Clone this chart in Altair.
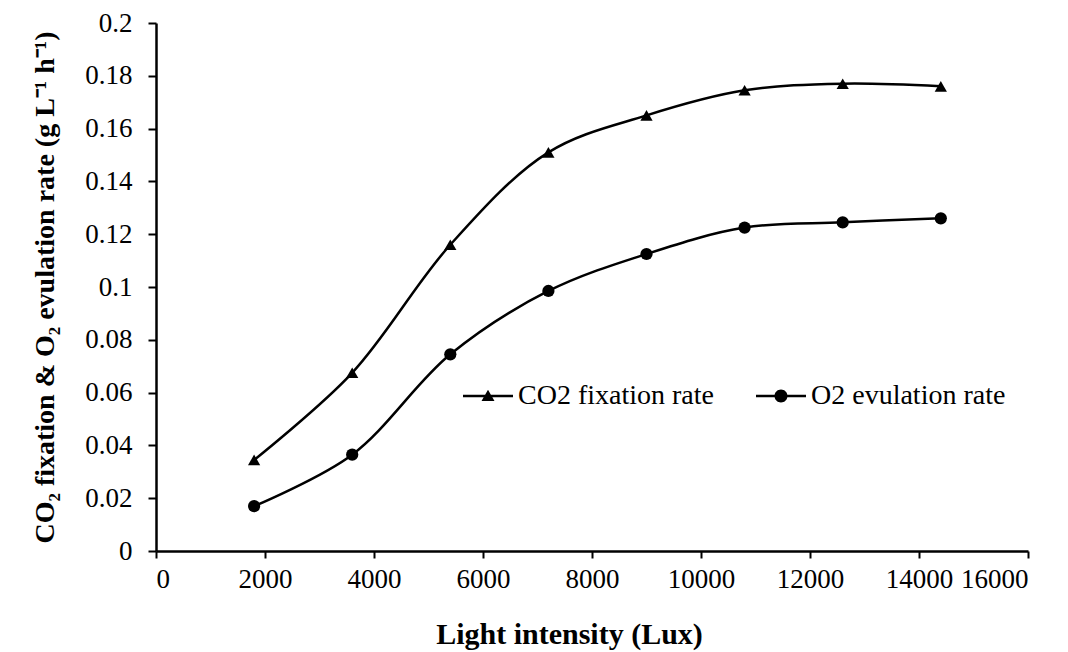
import altair as alt
import pandas as pd

light = [1800, 3600, 5400, 7200, 9000, 10800, 12600, 14400]
co2_rate = [0.0345, 0.0675, 0.116, 0.151, 0.165, 0.1745, 0.177, 0.176]
o2_rate = [0.017, 0.0365, 0.0745, 0.0985, 0.1125, 0.1225, 0.1245, 0.126]
series_names = ["CO2 fixation rate", "O2 evulation rate"]
x_ticks = [0, 2000, 4000, 6000, 8000, 10000, 12000, 14000, 16000]
y_ticks = [0, 0.02, 0.04, 0.06, 0.08, 0.1, 0.12, 0.14, 0.16, 0.18, 0.2]

rows = []
for x, v in zip(light, co2_rate):
    rows.append({"x": x, "y": v, "series": series_names[0]})
for x, v in zip(light, o2_rate):
    rows.append({"x": x, "y": v, "series": series_names[1]})
df = pd.DataFrame(rows)

FONT = "Liberation Serif"
W, H = 872, 528

xenc = alt.X("x:Q", scale=alt.Scale(domain=[0, 16000], nice=False),
             axis=alt.Axis(values=x_ticks, format="d", title="Light intensity (Lux)",
                           titleFontWeight="bold", titleFontSize=30,
                           titleX=413, titleY=92, titleBaseline="alphabetic", titleAlign="center",
                           labelFont=FONT, titleFont=FONT, labelOverlap=False,
                           labelFontSize=27, tickSize=7, labelPadding=8))
yenc = alt.Y("y:Q", scale=alt.Scale(domain=[0, 0.2], nice=False),
             axis=alt.Axis(values=y_ticks, format=".2~f",
                           title="CO\u2082 fixation & O\u2082 evulation rate (g L\u207b\u00b9 h\u207b\u00b9)",
                           titleFontWeight="bold", titleFontSize=28,
                           titleX=-103, titleY=264, titleAngle=270,
                           titleBaseline="alphabetic", titleAlign="center",
                           labelFont=FONT, titleFont=FONT, labelOverlap=False,
                           labelFontSize=27, tickSize=8, labelPadding=16))

line = alt.Chart(df).mark_line(color="black", strokeWidth=2.5, interpolate="catmull-rom").encode(
    x=xenc, y=yenc, detail="series:N")

points = alt.Chart(df).mark_point(filled=True, color="black", size=150, opacity=1).encode(
    x="x:Q", y="y:Q",
    shape=alt.Shape("series:N", scale=alt.Scale(domain=series_names, range=["triangle-up", "circle"]),
                    legend=None))

tri_path = "M-1,-0.05L1,-0.05L1,0.05L-1,0.05ZM-0.26,0.2L0,-0.25L0.26,0.2Z"
circ_path = "M-1,-0.05L1,-0.05L1,0.05L-1,0.05ZM0.26,0A0.26,0.26,0,1,1,-0.26,0A0.26,0.26,0,1,1,0.26,0Z"

legend_layer = alt.Chart(df).mark_point(filled=True, color="black", opacity=0).encode(
    x="x:Q", y="y:Q",
    shape=alt.Shape("series:N", scale=alt.Scale(domain=series_names, range=[tri_path, circ_path]),
                    legend=alt.Legend(title=None, orient="none", legendX=307, legendY=348,
                                      direction="horizontal", symbolSize=2500,
                                      symbolOpacity=1, symbolFillColor="black",
                                      symbolStrokeColor="black", symbolStrokeWidth=0,
                                      labelFontSize=28, labelFont=FONT, labelColor="black",
                                      labelLimit=400, labelOffset=5, columnPadding=42)))

chart = alt.layer(line, points, legend_layer).resolve_scale(shape="independent").properties(
    width=W, height=H,
    background="white",
    autosize=alt.AutoSizeParams(type="none"),
    padding={"left": 156, "top": 23, "right": 40, "bottom": 101},
).configure_view(stroke=None).configure_axis(
    labelColor="black", titleColor="black",
    domainColor="black", tickColor="black", domainWidth=2.5, tickWidth=2, grid=False,
)

chart.save("out.html", embed_options={"renderer": "svg", "actions": False})
